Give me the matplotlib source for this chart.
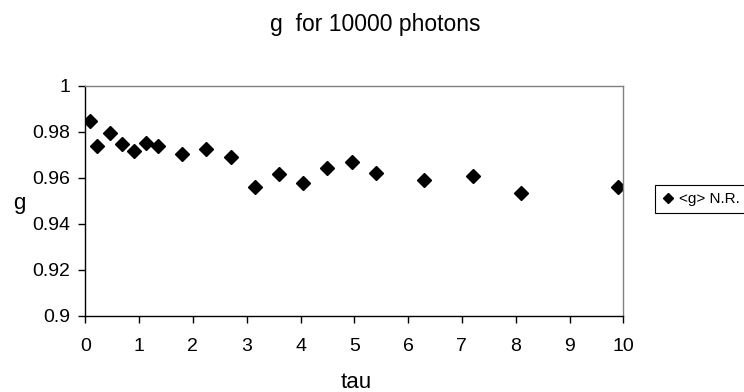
import matplotlib
matplotlib.use("Agg")
import matplotlib.pyplot as plt

tau = [0.09, 0.225, 0.45, 0.675, 0.9, 1.125, 1.35, 1.8, 2.25, 2.7,
       3.15, 3.6, 4.05, 4.5, 4.95, 5.4, 6.3, 7.2, 8.1, 9.9]
g_nr = [0.9848, 0.9737, 0.9795, 0.9746, 0.9718, 0.9753, 0.9737, 0.9705, 0.9725, 0.9690,
        0.9560, 0.9614, 0.9579, 0.9641, 0.9669, 0.9622, 0.9588, 0.9607, 0.9534, 0.9560]
x_ticks = [0, 1, 2, 3, 4, 5, 6, 7, 8, 9, 10]
y_ticks = [0.9, 0.92, 0.94, 0.96, 0.98, 1.0]
y_tick_labels = ["0.9", "0.92", "0.94", "0.96", "0.98", "1"]

plt.rcParams['font.family'] = ['Liberation Sans', 'DejaVu Sans']

W, H = 744, 392
fig = plt.figure(figsize=(W / 100, H / 100), dpi=100)
left, right, top, bottom = 85.3, 623.3, 85.7, 315.7
ax = fig.add_axes([left / W, 1 - bottom / H, (right - left) / W, (bottom - top) / H])

ax.plot(tau, g_nr, linestyle='none', marker='D', markersize=6.8, color='black',
        label='<g> N.R.')

ax.set_xlim(0, 10)
ax.set_ylim(0.9, 1.0)
ax.set_xticks(x_ticks)
ax.set_yticks(y_ticks)
ax.set_yticklabels(y_tick_labels)

for s in ['top', 'right']:
    ax.spines[s].set_color('#808080')
    ax.spines[s].set_linewidth(1.0)
for s in ['left', 'bottom']:
    ax.spines[s].set_color('black')
    ax.spines[s].set_linewidth(1.0)

ax.tick_params(axis='x', direction='out', length=5, width=1, pad=11, labelsize=14)
ax.tick_params(axis='y', direction='out', length=5, width=1, pad=6, labelsize=14)

fig.text(375 / W, 1 - 25 / H, 'g  for 10000 photons', ha='center', va='center', fontsize=16.5)
fig.text(356 / W, 1 - 383 / H, 'tau', ha='center', va='center', fontsize=16)
fig.text(19 / W, 1 - 203 / H, 'g', ha='center', va='center', fontsize=16)

leg = fig.legend(loc='upper left', bbox_to_anchor=(655 / W, 1 - 185 / H),
                 borderaxespad=0, fancybox=False, edgecolor='black', framealpha=1,
                 fontsize=11, handletextpad=0.3, borderpad=0.45, handlelength=0.8,
                 markerscale=0.8)
leg.get_frame().set_linewidth(0.8)

fig.savefig('out.png', dpi=100)
